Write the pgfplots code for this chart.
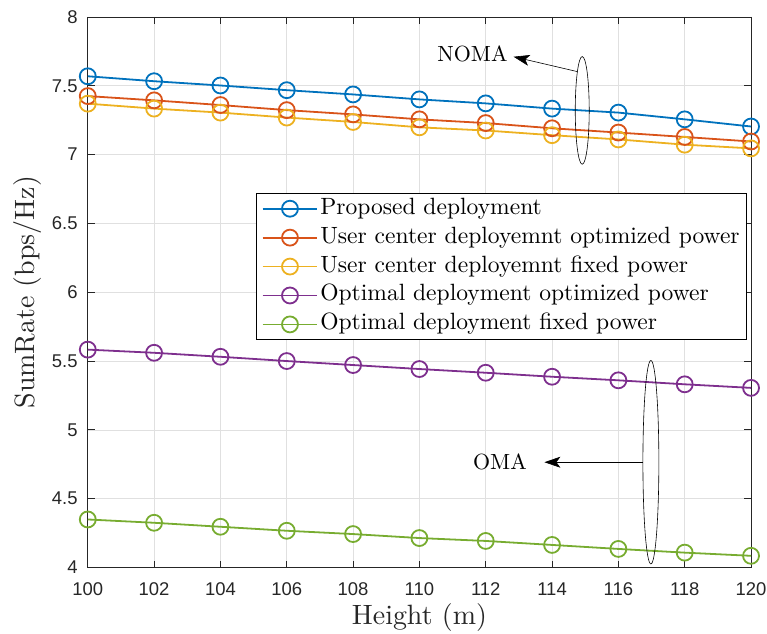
\documentclass[border=0pt]{standalone}
\usepackage{pgfplots}
\pgfplotsset{compat=1.18}
\usepackage{fontspec}
\setmainfont{lmroman10-regular}[Extension=.otf]
\newfontfamily\ticksans{Liberation Sans}
\usetikzlibrary{arrows.meta}
\definecolor{mblue}{rgb}{0,0.447,0.741}
\definecolor{mred}{rgb}{0.85,0.325,0.098}
\definecolor{myellow}{rgb}{0.929,0.694,0.125}
\definecolor{mpurple}{rgb}{0.494,0.184,0.556}
\definecolor{mgreen}{rgb}{0.466,0.674,0.188}
\definecolor{axgray}{rgb}{0.15,0.15,0.15}
\begin{document}
\begin{tikzpicture}
\begin{axis}[
  scale only axis, width=665pt, height=552pt,
  xmin=100, xmax=120, ymin=4, ymax=8,
  xtick={100,102,104,106,108,110,112,114,116,118,120},
  ytick={4,4.5,5,5.5,6,6.5,7,7.5,8},
  grid=major, grid style={color=black!12, line width=0.7pt},
  axis line style={color=axgray, line width=0.8pt},
  tick style={color=axgray, line width=0.8pt}, tick align=inside, major tick length=7pt,
  /pgf/number format/assume math mode=true,
  ticklabel style={font=\fontsize{18.5}{20}\selectfont\ticksans, color=axgray},
  xticklabel style={inner sep=0pt, yshift=-15pt},
  yticklabel style={inner sep=0pt, xshift=-10pt},
  xlabel={Height (m)}, ylabel={SumRate (bps/Hz)},
  label style={font=\fontsize{28}{30}\selectfont, inner sep=0pt, color=axgray},
  xlabel style={at={(axis description cs:0.5,-0.065)}, anchor=north},
  ylabel style={at={(axis description cs:-0.1128,0.5)}, anchor=north},
  clip=false,
  legend style={at={(0.994,0.6805)}, anchor=north east, font=\fontsize{23.6}{28}\selectfont,
    draw=black, line width=0.8pt, fill=white, cells={anchor=west},
    inner xsep=5pt, inner ysep=4pt,
    nodes={inner xsep=2pt, inner ysep=0pt, text height=17pt, text depth=6pt},
    row sep=6pt},
  legend image code/.code={\draw[mark repeat=2, mark phase=2] plot coordinates {(0pt,0pt) (27.5pt,0pt) (55pt,0pt)};},
  every axis plot/.append style={line width=1.8pt, mark=o, mark size=8pt, mark options={line width=1.8pt, fill=none}},
]
\addplot[color=mblue] coordinates {(100,7.569)(102,7.533)(104,7.502)(106,7.468)(108,7.437)(110,7.401)(112,7.372)(114,7.334)(116,7.305)(118,7.256)(120,7.204)};
\addlegendentry{Proposed deployment}
\addplot[color=mred] coordinates {(100,7.425)(102,7.394)(104,7.360)(106,7.323)(108,7.292)(110,7.256)(112,7.229)(114,7.191)(116,7.160)(118,7.128)(120,7.095)};
\addlegendentry{User center deployemnt optimized power}
\addplot[color=myellow] coordinates {(100,7.370)(102,7.334)(104,7.305)(106,7.269)(108,7.237)(110,7.198)(112,7.175)(114,7.141)(116,7.110)(118,7.072)(120,7.045)};
\addlegendentry{User center deployemnt fixed power}
\addplot[color=mpurple] coordinates {(100,5.583)(102,5.560)(104,5.531)(106,5.500)(108,5.471)(110,5.442)(112,5.415)(114,5.386)(116,5.360)(118,5.331)(120,5.305)};
\addlegendentry{Optimal deployment optimized power}
\addplot[color=mgreen] coordinates {(100,4.349)(102,4.325)(104,4.296)(106,4.267)(108,4.243)(110,4.214)(112,4.193)(114,4.164)(116,4.135)(118,4.108)(120,4.085)};
\addlegendentry{Optimal deployment fixed power}
% annotations
\draw[line width=0.6pt] (axis cs:114.91,7.321) ellipse [x radius=7pt, y radius=54pt];
\draw[line width=0.6pt, -{Stealth[length=16pt,width=11pt,inset=4pt]}] (axis cs:114.76,7.603) -- (axis cs:112.84,7.711);
\node[font=\fontsize{22}{24}\selectfont] at (axis cs:111.60,7.729) {NOMA};
\draw[line width=0.6pt] (axis cs:116.98,4.765) ellipse [x radius=8pt, y radius=102pt];
\draw[line width=0.6pt, -{Stealth[length=16pt,width=11pt,inset=4pt]}] (axis cs:116.74,4.765) -- (axis cs:113.77,4.765);
\node[font=\fontsize{22}{24}\selectfont] at (axis cs:112.43,4.765) {OMA};
\end{axis}
\pgfresetboundingbox
\path ([shift={(-88pt,-66pt)}]current axis.south west) rectangle ([shift={(16pt,17pt)}]current axis.north east);
\end{tikzpicture}
\end{document}
